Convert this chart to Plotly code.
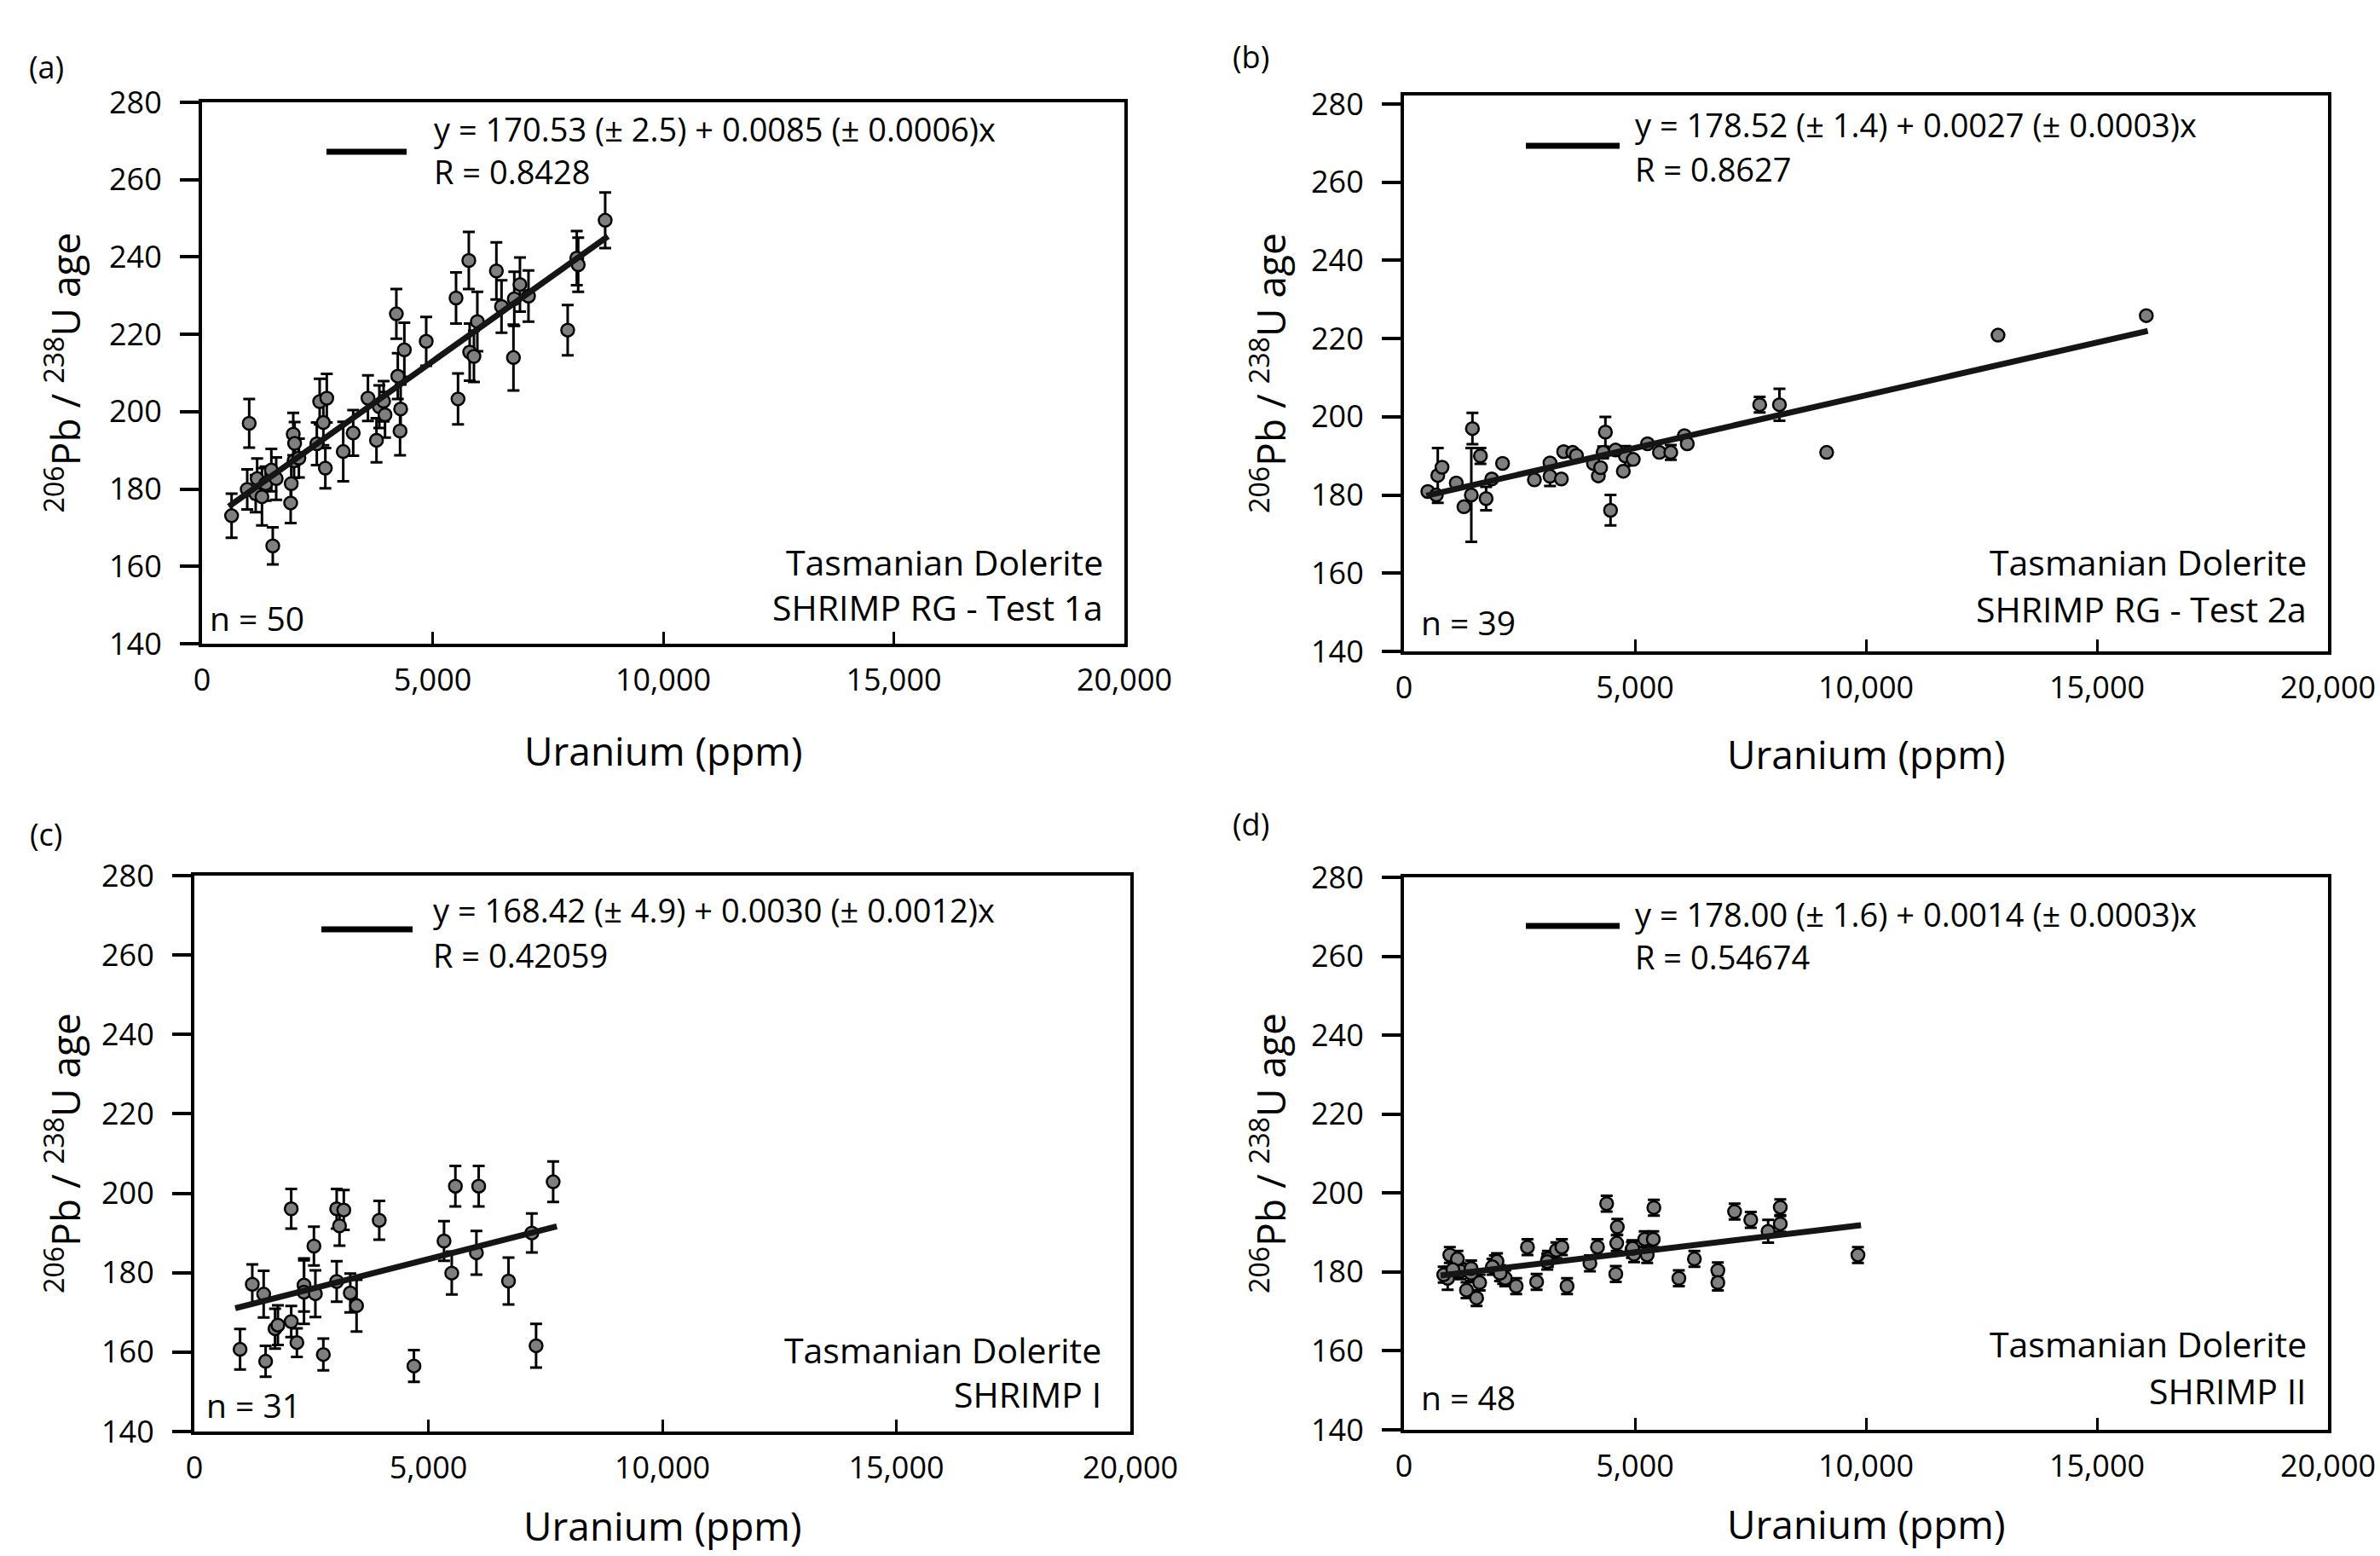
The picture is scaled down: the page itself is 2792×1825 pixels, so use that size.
import plotly.graph_objects as go

# ---------------- data ----------------
x_ticks = [0, 5000, 10000, 15000, 20000]
x_tick_labels = ["0", "5,000", "10,000", "15,000", "20,000"]
y_ticks = [140, 160, 180, 200, 220, 240, 260, 280]

# (a) SHRIMP RG - Test 1a
x_a = [641, 1023, 980, 1164, 1195, 1300, 1380, 1503, 1608, 1534, 1935, 1922, 1978, 2008, 1996,
       2489, 2551, 2631, 2705, 2674, 3062, 3278, 3598, 3783, 3845, 3937, 3968, 4214, 4245, 4307,
       4294, 4387, 4861, 5508, 5551, 5785, 5804, 5896, 5970, 6383, 6494, 6753, 6894, 6771, 7079,
       7929, 8126, 8157, 8742, 2100]
y_a = [173.1, 197.0, 179.9, 178.8, 182.7, 178.0, 181.4, 184.9, 182.7, 165.3, 181.4, 176.4, 194.2,
       191.8, 187.3, 191.7, 202.6, 197.2, 203.5, 185.4, 189.7, 194.5, 203.5, 192.6, 201.3, 202.7,
       199.2, 225.3, 209.2, 200.7, 195.0, 216.0, 218.2, 229.4, 203.3, 239.1, 215.4, 214.3, 223.3,
       236.4, 227.2, 214.0, 232.9, 229.2, 229.9, 221.1, 239.7, 238.0, 249.5, 188.0]
err_a = [5.7, 6.3, 5.2, 4.8, 5.2, 7.4, 4.4, 5.5, 5.5, 4.8, 4.8, 5.2, 5.5, 5.5, 4.4, 5.5, 5.9, 5.9,
         6.3, 5.2, 7.7, 5.9, 5.9, 5.7, 5.5, 5.2, 5.9, 6.4, 5.9, 6.3, 6.3, 7.0, 6.3, 6.6, 6.6, 7.4,
         7.4, 6.6, 7.7, 7.4, 6.8, 8.5, 7.0, 7.0, 6.6, 6.5, 7.0, 7.0, 7.2, 5.0]
fit_a = [170.53, 0.0085]
fit_range_a = [579, 8804]

# (b) SHRIMP RG - Test 2a
x_b = [517, 701, 732, 824, 1132, 1298, 1458, 1482, 1655, 1778, 1901, 2134, 2823, 3161, 3161,
       3407, 3456, 3653, 3733, 4102, 4207, 4256, 4311, 4360, 4471, 4748, 4791, 4963, 5271, 5529,
       5775, 6070, 6132, 7699, 8127, 9149, 12858, 16067, 4580]
y_b = [180.9, 180.0, 185.0, 187.1, 183.1, 177.0, 180.0, 197.0, 190.0, 179.1, 184.1, 188.1, 183.9,
       188.2, 184.8, 184.1, 191.1, 190.9, 190.1, 188.1, 184.9, 187.0, 190.9, 196.1, 176.1, 186.1,
       190.0, 189.1, 193.1, 190.9, 190.9, 195.2, 193.1, 203.1, 203.1, 190.9, 220.9, 225.9, 191.5]
err_b = [0, 0, 7.0, 0, 0, 0, 12.0, 4.0, 2.0, 3.0, 0, 0, 0, 0, 2.5, 0, 0, 0, 0, 0, 0, 0, 1.5, 3.9,
         3.9, 0, 2.5, 0, 0, 0, 1.9, 0, 0, 2.0, 4.1, 0, 0, 0, 0]
fit_b = [178.52, 0.0027]
fit_range_b = [486, 16100]

# (c) SHRIMP I
x_c = [977, 1238, 1481, 1523, 1724, 1785, 2070, 2070, 2191, 2343, 2343, 2586, 2555, 2756, 3041,
       3193, 3102, 3041, 3332, 3466, 3951, 4692, 5335, 5500, 5578, 6076, 6027, 6713, 7211, 7302,
       7667]
y_c = [160.7, 177.1, 174.6, 157.7, 165.9, 166.8, 196.1, 167.7, 162.4, 176.9, 175.1, 174.7, 186.7,
       159.4, 196.1, 195.8, 191.8, 177.8, 174.9, 171.7, 193.2, 156.5, 188.0, 179.9, 201.8, 201.8,
       185.0, 177.9, 190.0, 161.6, 202.9]
err_c = [5.1, 5.0, 5.9, 3.9, 5.0, 5.0, 5.0, 3.9, 3.6, 6.7, 8.0, 5.9, 4.9, 4.0, 5.0, 5.0, 5.0, 5.1,
         4.9, 6.5, 4.9, 4.0, 5.0, 5.4, 5.1, 5.1, 5.5, 5.9, 4.9, 5.5, 5.1]
fit_c = [168.42, 0.0030]
fit_range_c = [874, 7745]

# (d) SHRIMP II
x_d = [946, 992, 1157, 1223, 1354, 1453, 1572, 1638, 1968, 2014, 2146, 2192, 2429, 2673, 2871,
       3115, 3299, 3418, 3530, 4025, 4189, 4387, 4585, 4605, 4618, 4935, 4981, 5211, 5396, 5264,
       5409, 5950, 6286, 6794, 6794, 7156, 7506, 7882, 8145, 8145, 9826, 860, 1058, 1915, 3102,
       2080, 4948, 1453]
y_d = [178.4, 184.3, 183.3, 180.2, 175.4, 179.7, 173.4, 177.3, 182.2, 182.7, 179.0, 178.4, 176.4,
       186.3, 177.5, 183.3, 185.5, 186.3, 176.4, 182.2, 186.3, 197.3, 179.5, 187.3, 191.4, 185.6,
       184.5, 188.3, 188.3, 184.3, 196.3, 178.4, 183.3, 180.4, 177.3, 195.3, 193.2, 190.3, 196.4,
       192.2, 184.3, 179.3, 180.6, 181.3, 182.6, 179.7, 186.0, 180.9]
err_d = [2.9] + [2.0] * 36 + [2.9] + [2.0] * 10
fit_d = [178.00, 0.0014]
fit_range_d = [794, 9892]

panels = [
    dict(tag="(a)", x=x_a, y=y_a, e=err_a, fit=fit_a, rng=fit_range_a,
         eq="y = 170.53 (± 2.5) + 0.0085 (± 0.0006)x", r="R = 0.8428",
         name1="Tasmanian Dolerite", name2="SHRIMP RG - Test 1a", n="n = 50"),
    dict(tag="(b)", x=x_b, y=y_b, e=err_b, fit=fit_b, rng=fit_range_b,
         eq="y = 178.52 (± 1.4) + 0.0027 (± 0.0003)x", r="R = 0.8627",
         name1="Tasmanian Dolerite", name2="SHRIMP RG - Test 2a", n="n = 39"),
    dict(tag="(c)", x=x_c, y=y_c, e=err_c, fit=fit_c, rng=fit_range_c,
         eq="y = 168.42 (± 4.9) + 0.0030 (± 0.0012)x", r="R = 0.42059",
         name1="Tasmanian Dolerite", name2="SHRIMP I", n="n = 31"),
    dict(tag="(d)", x=x_d, y=y_d, e=err_d, fit=fit_d, rng=fit_range_d,
         eq="y = 178.00 (± 1.6) + 0.0014 (± 0.0003)x", r="R = 0.54674",
         name1="Tasmanian Dolerite", name2="SHRIMP II", n="n = 48"),
]

# ---------------- layout geometry (pixels) ----------------
W, H = 2792, 1825
FONT = "Open Sans, Noto Sans, sans-serif"

geo = [
    dict(l=237, r=1319, t=120, b=755, ytop=280, tag=(54, 78), ytx=74,
         eqx=507, eqy1=151, eqy2=201, lx0=383, lx1=477, ly=178,
         nmr=1296, nmy1=659, nmy2=712, nl=244, ny=724, xty=880),
    dict(l=1647, r=2731, t=112, b=764, ytop=282.2, tag=(1467, 66), ytx=1488,
         eqx=1916, eqy1=146, eqy2=198, lx0=1790, lx1=1900, ly=171,
         nmr=2708, nmy1=659, nmy2=714, nl=1665, ny=729, xty=884),
    dict(l=228, r=1326, t=1027, b=1679, ytop=280, tag=(54, 978), ytx=74,
         eqx=506, eqy1=1067, eqy2=1120, lx0=377, lx1=484, ly=1090,
         nmr=1294, nmy1=1583, nmy2=1635, nl=240, ny=1647, xty=1789),
    dict(l=1647, r=2731, t=1029, b=1677, ytop=280, tag=(1467, 967), ytx=1488,
         eqx=1916, eqy1=1072, eqy2=1122, lx0=1790, lx1=1900, ly=1086,
         nmr=2708, nmy1=1576, nmy2=1631, nl=1665, ny=1638, xty=1787),
]


def px(xp):
    return xp / W


def py(yp):
    return 1 - yp / H


fig = go.Figure()
annotations = []
shapes = []
layout_axes = {}

for i, (p, g) in enumerate(zip(panels, geo)):
    k = "" if i == 0 else str(i + 1)
    xa, ya = "x" + k, "y" + k
    fig.add_trace(go.Scatter(
        x=p["x"], y=p["y"], mode="markers", xaxis=xa, yaxis=ya, showlegend=False,
        marker=dict(size=15, color="#7f7f7f", line=dict(color="black", width=2.5)),
        error_y=dict(type="data", array=p["e"], visible=True, color="black",
                     thickness=3, width=7),
    ))
    x0, x1 = p["rng"]
    a0, a1 = p["fit"]
    fig.add_trace(go.Scatter(
        x=[x0, x1], y=[a0 + a1 * x0, a0 + a1 * x1], mode="lines",
        xaxis=xa, yaxis=ya, showlegend=False,
        line=dict(color="#161414", width=7),
    ))

    layout_axes["xaxis" + k] = dict(
        domain=[px(g["l"]), px(g["r"])], range=[0, 20000], anchor=ya,
        tickvals=x_ticks, ticktext=x_tick_labels, ticks="inside", ticklen=14,
        tickwidth=3, tickcolor="black", showline=True, linecolor="black",
        linewidth=4, mirror=True, showgrid=False, zeroline=False, automargin=False,
        tickfont=dict(family=FONT, size=36, color="black"), ticklabelstandoff=8,
    )
    layout_axes["yaxis" + k] = dict(
        domain=[py(g["b"]), py(g["t"])], range=[140, g["ytop"]], anchor=xa,
        tickvals=y_ticks, ticks="outside", ticklen=22, tickwidth=4,
        tickcolor="black", showline=True, linecolor="black", linewidth=4,
        mirror=True, showgrid=False, zeroline=False, automargin=False,
        tickfont=dict(family=FONT, size=36, color="black"), ticklabelstandoff=14,
    )

    def ann(text, x, y, size, xanchor="center", yanchor="middle", angle=0):
        annotations.append(dict(
            text=text, x=px(x), y=py(y), xref="paper", yref="paper",
            showarrow=False, xanchor=xanchor, yanchor=yanchor, textangle=angle,
            font=dict(family=FONT, size=size, color="black")))

    ann(p["tag"], g["tag"][0], g["tag"][1], 36)
    ann("<sup>206</sup>Pb / <sup>238</sup>U age", g["ytx"], (g["t"] + g["b"]) / 2, 46, angle=-90)
    ann("Uranium (ppm)", (g["l"] + g["r"]) / 2, g["xty"], 46)
    ann(p["eq"], g["eqx"], g["eqy1"], 38, xanchor="left")
    ann(p["r"], g["eqx"], g["eqy2"], 38, xanchor="left")
    ann(p["name1"], g["nmr"], g["nmy1"], 41, xanchor="right")
    ann(p["name2"], g["nmr"], g["nmy2"], 41, xanchor="right")
    ann(p["n"], g["nl"], g["ny"], 39, xanchor="left")

    shapes.append(dict(type="line", xref="paper", yref="paper",
                       x0=px(g["lx0"]), x1=px(g["lx1"]), y0=py(g["ly"]), y1=py(g["ly"]),
                       line=dict(color="black", width=7)))

fig.update_layout(
    template="none",
    width=W, height=H, margin=dict(l=0, r=0, t=0, b=0, pad=0, autoexpand=False),
    paper_bgcolor="white", plot_bgcolor="white",
    annotations=annotations, shapes=shapes, showlegend=False,
    font=dict(family=FONT, color="black"),
    **layout_axes,
)

fig.write_html(
    "out.html",
    config={"displayModeBar": False},
    post_script=(
        "document.body.style.margin='0';"
        "document.body.style.overflow='hidden';"
        "document.documentElement.style.overflow='hidden';"
    ),
)
